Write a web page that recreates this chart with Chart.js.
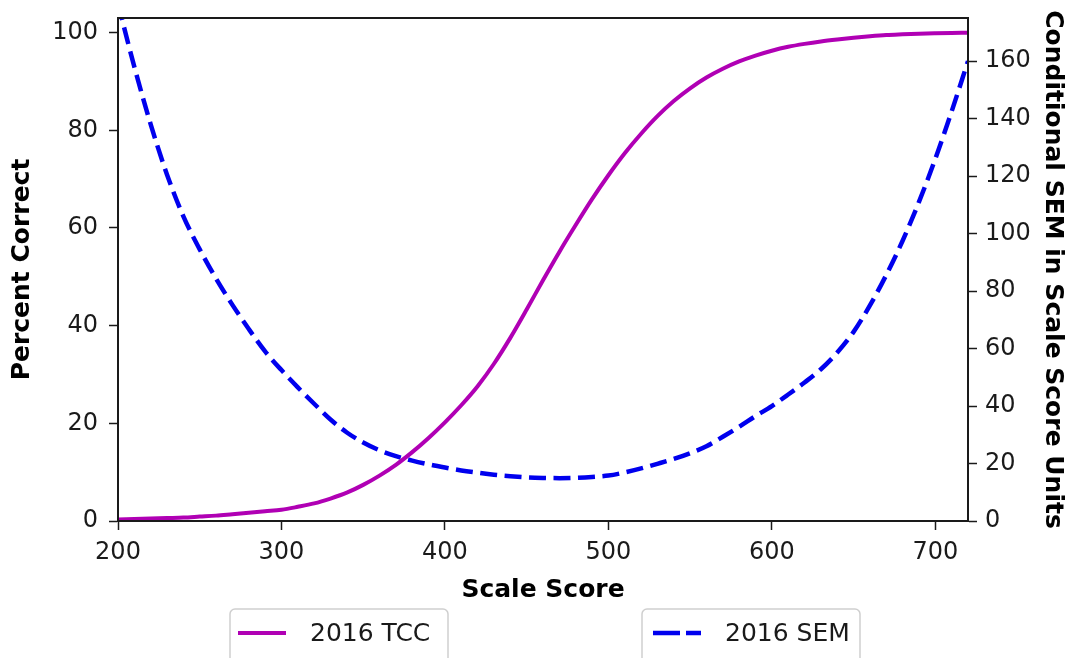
<!DOCTYPE html>
<html>
<head>
<meta charset="utf-8">
<script src="https://cdn.jsdelivr.net/npm/chart.js@4.4.1/dist/chart.umd.min.js"></script>
<style>
  body { margin: 0; background: #fff; }
  #wrap { width: 1071px; height: 658px; }
</style>
</head>
<body>
<div id="wrap"><canvas id="tcc-chart" width="1071" height="658"></canvas></div>
<script>
// scale scores, every 10 points
var scaleScores = [200,210,220,230,240,250,260,270,280,290,300,310,320,330,340,350,360,370,380,390,
  400,410,420,430,440,450,460,470,480,490,500,510,520,530,540,550,560,570,580,590,
  600,610,620,630,640,650,660,670,680,690,700,710,720];

// test characteristic curve, percent correct
var tcc2016 = [0.3,0.4,0.5,0.6,0.7,0.9,1.1,1.4,1.7,2.0,2.3,2.9,3.6,4.6,5.8,7.4,9.3,11.5,14.1,17.0,
  20.2,23.7,27.6,32.2,37.5,43.3,49.3,55.1,60.6,65.9,70.8,75.3,79.3,82.9,86.0,88.6,90.8,92.6,94.1,95.3,
  96.3,97.1,97.7,98.2,98.6,98.95,99.25,99.5,99.65,99.78,99.87,99.94,100];

// conditional SEM in scale score units
var sem2016 = [180,158,138,120.5,106,94.5,84.3,75.2,66.8,59,52.5,46.5,40.8,35.3,30.8,27.3,24.6,22.6,21,19.7,
  18.6,17.6,16.8,16.1,15.6,15.2,15,14.9,15,15.3,15.8,16.9,18.3,19.9,21.6,23.6,26,29.3,32.8,36.5,
  40,44,48.2,52.8,58.6,65.8,75,85.6,97.5,111,126,142.5,160];

var xTicks = [200,300,400,500,600,700];
var leftTicks = [0,20,40,60,80,100];
var rightTicks = [0,20,40,60,80,100,120,140,160];

var ink = '#1a1a1a';
var tickFont = { family: 'DejaVu Sans', size: 24 };
var titleFont = { family: 'DejaVu Sans', size: 25, weight: 'bold' };

function pts(ys) {
  return scaleScores.map(function (x, i) { return { x: x, y: ys[i] }; });
}

var frame = {
  id: 'frame',
  afterDatasetsDraw: function (chart) {
    var a = chart.chartArea, ctx = chart.ctx;
    ctx.save();
    ctx.strokeStyle = ink;
    ctx.lineWidth = 2;
    ctx.strokeRect(a.left, a.top, a.right - a.left, a.bottom - a.top);
    ctx.restore();
  }
};

var boxLegend = {
  id: 'boxLegend',
  afterDraw: function (chart) {
    var ctx = chart.ctx;
    var spots = [{ bx: 230, lx: 238, tx: 310 }, { bx: 642, lx: 653, tx: 725 }];
    chart.data.datasets.forEach(function (ds, i) {
      var s = spots[i];
      ctx.save();
      ctx.fillStyle = '#fff';
      ctx.strokeStyle = '#cfcfcf';
      ctx.lineWidth = 1.5;
      ctx.beginPath();
      ctx.roundRect(s.bx, 609, 218, 70, 5);
      ctx.fill();
      ctx.stroke();
      ctx.strokeStyle = ds.borderColor;
      ctx.lineWidth = ds.borderWidth;
      ctx.setLineDash(ds.borderDash && ds.borderDash.length ? [27, 6] : []);
      ctx.beginPath();
      ctx.moveTo(s.lx, 633);
      ctx.lineTo(s.lx + 48, 633);
      ctx.stroke();
      ctx.setLineDash([]);
      ctx.fillStyle = ink;
      ctx.font = '25px "DejaVu Sans"';
      ctx.textBaseline = 'middle';
      ctx.fillText(ds.label, s.tx, 634);
      ctx.restore();
    });
  }
};

function axisGrid() {
  return { drawOnChartArea: false, drawTicks: true, tickLength: 9, tickColor: ink, tickWidth: 1.5 };
}

function fixWidth(w) {
  return function (s) {
    s.width = w;
    s.paddingTop = 0;
    s.paddingBottom = 0;
  };
}

new Chart(document.getElementById('tcc-chart'), {
  type: 'line',
  data: {
    datasets: [
      {
        label: '2016 TCC',
        data: pts(tcc2016),
        yAxisID: 'y',
        borderColor: '#b000b4',
        borderWidth: 4,
        pointRadius: 0,
        cubicInterpolationMode: 'monotone',
        fill: false
      },
      {
        label: '2016 SEM',
        data: pts(sem2016),
        yAxisID: 'y1',
        borderColor: '#0000ee',
        borderWidth: 4.5,
        borderDash: [17, 7.5],
        pointRadius: 0,
        cubicInterpolationMode: 'monotone',
        fill: false
      }
    ]
  },
  options: {
    responsive: false,
    animation: false,
    layout: { padding: { top: 18, bottom: 53, left: 0, right: 0 } },
    plugins: { legend: { display: false }, tooltip: { enabled: false } },
    scales: {
      x: {
        type: 'linear',
        min: 200,
        max: 720,
        afterBuildTicks: function (s) { s.ticks = xTicks.map(function (v) { return { value: v }; }); },
        afterFit: function (s) { s.height = 84; s.paddingLeft = 0; s.paddingRight = 0; },
        grid: axisGrid(),
        border: { color: ink, width: 2 },
        ticks: { font: tickFont, color: ink, padding: 8, maxRotation: 0 },
        title: { display: true, text: 'Scale Score', font: titleFont, color: '#000', padding: { top: 0, bottom: 0 } }
      },
      y: {
        position: 'left',
        min: 0,
        max: 103,
        afterBuildTicks: function (s) { s.ticks = leftTicks.map(function (v) { return { value: v }; }); },
        afterFit: fixWidth(118),
        grid: axisGrid(),
        border: { color: ink, width: 2 },
        ticks: { font: tickFont, color: ink, padding: 11 },
        title: { display: true, text: 'Percent Correct', font: titleFont, color: '#000', padding: { top: 7, bottom: 0 } }
      },
      y1: {
        position: 'right',
        min: 0,
        max: 175,
        afterBuildTicks: function (s) { s.ticks = rightTicks.map(function (v) { return { value: v }; }); },
        afterFit: fixWidth(103),
        grid: axisGrid(),
        border: { color: ink, width: 2 },
        ticks: { font: tickFont, color: ink, padding: 8 },
        title: { display: true, text: 'Conditional SEM in Scale Score Units', font: titleFont, color: '#000', padding: { top: 4, bottom: 0 } }
      }
    }
  },
  plugins: [frame, boxLegend]
});
</script>
</body>
</html>
